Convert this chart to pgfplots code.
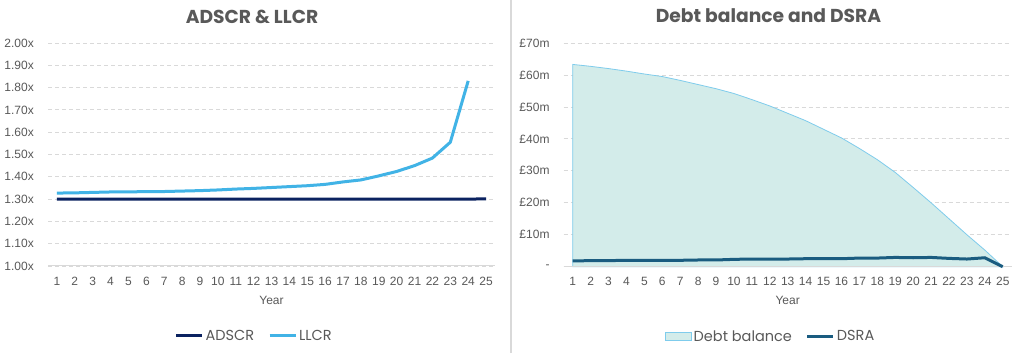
\documentclass[border=0pt]{standalone}
\usepackage{pgfplots}
\pgfplotsset{compat=1.18}
\usepackage{fontspec}
\setmainfont{Liberation Sans}
\newfontfamily\pop{Poppins}
\definecolor{adscr}{HTML}{0B2260}
\definecolor{llcr}{HTML}{41B3E6}
\definecolor{dsra}{HTML}{1A5C80}
\definecolor{debtfill}{HTML}{D3ECEA}
\definecolor{debtline}{HTML}{7FCCEC}
\definecolor{txt}{HTML}{595959}
\definecolor{gridgray}{HTML}{D9D9D9}
\pgfplotsset{
  chartbase/.style={
    scale only axis,
    /pgf/number format/assume math mode=true,
    axis line style={draw=none},
    xmin=0.5, xmax=25.5,
    xtick={1,...,25},
    major tick length=0pt,
    tick style={draw=none},
    xmajorgrids=false,
    ymajorgrids=true,
    major grid style={draw=gridgray, dash pattern=on 4pt off 3pt, line width=0.8pt},
    xticklabel style={anchor=center, yshift=-15pt, font=\fontsize{12}{14}\selectfont, text=txt},
    yticklabel style={anchor=east, inner sep=0pt, xshift=-14pt, font=\fontsize{12}{14}\selectfont, text=txt},
    xlabel={Year},
    xlabel style={at={(axis description cs:0.5,-0.1525)}, anchor=center, font=\fontsize{12}{14}\selectfont, text=txt},
    clip=false,
    legend style={draw=none, fill=none, legend columns=2, font=\pop\fontsize{14.5}{16}\selectfont, text=txt,
      /tikz/every even column/.append style={column sep=12pt}, nodes={inner xsep=2pt}},
    legend image code/.code={\draw[#1] (0pt,0pt) -- (26pt,0pt);},
  }
}
\begin{document}
\begin{tikzpicture}
\useasboundingbox (0,0) rectangle (1024pt,353pt);
\fill[white] (0,0) rectangle (1024pt,353pt);
\draw[gridgray, line width=1.5pt] (511pt,0) -- (511pt,353pt);
\node[font=\pop\bfseries\fontsize{18.7}{22}\selectfont, text=txt] at (252pt,336.5pt) {ADSCR \& LLCR};
\node[font=\pop\bfseries\fontsize{18.7}{22}\selectfont, text=txt] at (768.5pt,337pt) {Debt balance and DSRA};

\begin{axis}[chartbase,
  at={(48pt,87pt)}, anchor=south west,
  width=447pt, height=223pt,
  ymin=1, ymax=2,
  ytick={1,1.1,1.2,1.3,1.4,1.5,1.6,1.7,1.8,1.9,2},
  yticklabels={1.00x,1.10x,1.20x,1.30x,1.40x,1.50x,1.60x,1.70x,1.80x,1.90x,2.00x},
  legend style={at={(0.461,-0.3126)}, anchor=center},
]
\draw[gridgray, line width=1pt] (axis cs:0.5,1) -- (axis cs:25.5,1);
\addplot[adscr, line width=3pt] coordinates {
(1,1.30)(2,1.30)(3,1.30)(4,1.30)(5,1.30)(6,1.30)(7,1.30)(8,1.30)(9,1.30)(10,1.30)
(11,1.30)(12,1.30)(13,1.30)(14,1.30)(15,1.30)(16,1.30)(17,1.30)(18,1.30)(19,1.30)(20,1.30)
(21,1.30)(22,1.30)(23,1.30)(24,1.30)(25,1.301)};
\addlegendentry{ADSCR}
\addplot[llcr, line width=3pt] coordinates {
(1,1.327)(2,1.328)(3,1.330)(4,1.332)(5,1.332)(6,1.334)(7,1.334)(8,1.336)(9,1.338)(10,1.341)
(11,1.345)(12,1.348)(13,1.352)(14,1.356)(15,1.360)(16,1.366)(17,1.377)(18,1.386)(19,1.404)(20,1.424)
(21,1.450)(22,1.484)(23,1.555)(24,1.830)};
\addlegendentry{LLCR}
\end{axis}

\begin{axis}[chartbase,
  at={(563.7pt,86.3pt)}, anchor=south west,
  width=448pt, height=223.7pt,
  ymin=0, ymax=70,
  ytick={0,10,20,30,40,50,60,70},
  yticklabels={-\hspace{3.5pt},£10m,£20m,£30m,£40m,£50m,£60m,£70m},
  legend style={at={(0.4616,-0.3126)}, anchor=center},
]
\addplot[fill=debtfill, draw=debtline, line width=0.8pt,
  legend image code/.code={\draw[fill=debtfill, draw=debtline, line width=1pt] (0pt,-4pt) rectangle (26pt,4pt);}] coordinates {
(1,63.3)(2,62.7)(3,62.0)(4,61.2)(5,60.3)(6,59.5)(7,58.3)(8,57.0)(9,55.7)(10,54.2)
(11,52.3)(12,50.3)(13,48.0)(14,45.7)(15,43.0)(16,40.3)(17,37.0)(18,33.5)(19,29.5)(20,24.8)
(21,20.0)(22,15.0)(23,10.0)(24,5.2)(25,0)} \closedcycle;
\addlegendentry{Debt balance}
\draw[gridgray, line width=1pt] (axis cs:0.5,0) -- (axis cs:25.5,0);
\addplot[dsra, line width=3pt] coordinates {
(1,1.8)(2,1.9)(3,1.9)(4,2.0)(5,2.0)(6,2.0)(7,2.0)(8,2.1)(9,2.1)(10,2.3)
(11,2.4)(12,2.4)(13,2.4)(14,2.5)(15,2.5)(16,2.5)(17,2.7)(18,2.7)(19,2.9)(20,2.8)
(21,2.9)(22,2.6)(23,2.4)(24,2.8)(25,0)};
\addlegendentry{DSRA}
\end{axis}
\end{tikzpicture}
\end{document}
